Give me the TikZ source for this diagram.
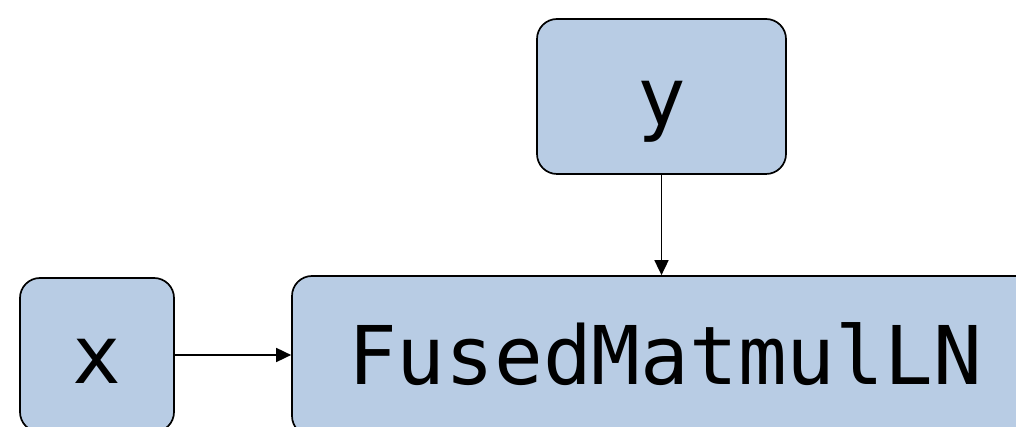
\documentclass[tikz,border=0pt]{standalone}
\usepackage{fontspec}
\newfontfamily\monofam{DejaVu Sans Mono}
\usetikzlibrary{arrows.meta}
\definecolor{boxfill}{RGB}{184,204,228}
\begin{document}
\begin{tikzpicture}[x=1pt,y=1pt,
  block/.style={draw=black, line width=1.7pt, fill=boxfill, rounded corners=20pt,
    inner sep=0pt, text height=70pt, text depth=12pt,
    font=\monofam\fontsize{81}{96}\selectfont},
  link/.style={line width=1.7pt, -{Triangle[length=15pt,width=14pt]}}]
  \useasboundingbox (0,0) rectangle (1016,427);
  \clip (0,0) rectangle (1016,427);
  % input y on top
  \node[block, minimum width=249pt, minimum height=155pt] (y) at (661.5,330.5) {y};
  % input x on the left
  \node[block, minimum width=154pt, minimum height=154pt] (x) at (97,72) {x};
  % fused operator
  \node[block, minimum width=746pt, minimum height=160pt] (f) at (665,71) {FusedMatmulLN};
  \draw[link] (x.east) -- (x.east -| f.west);
  \draw[link] (y.south) -- (y.south |- f.north);
\end{tikzpicture}
\end{document}
